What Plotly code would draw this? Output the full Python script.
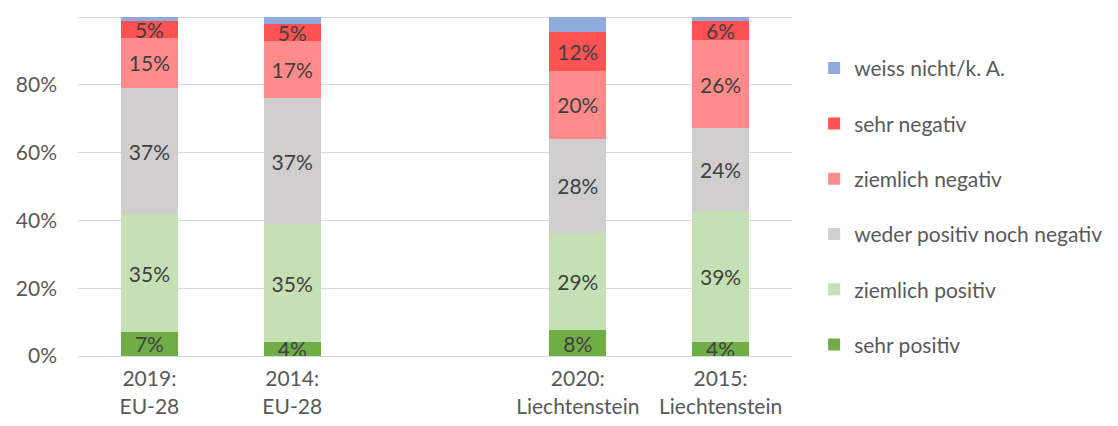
import plotly.graph_objects as go

categories = ["2019:<br>EU-28", "2014:<br>EU-28", " ", "2020:<br>Liechtenstein", "2015:<br>Liechtenstein"]
series_names = ["sehr positiv", "ziemlich positiv", "weder positiv noch negativ",
                "ziemlich negativ", "sehr negativ", "weiss nicht/k. A."]
sehr_positiv = [7.1, 4.2, None, 7.6, 4.2]
ziemlich_positiv = [34.7, 34.6, None, 28.8, 38.6]
weder = [37.2, 37.3, None, 27.6, 24.4]
ziemlich_negativ = [14.9, 16.9, None, 20.2, 25.9]
sehr_negativ = [4.9, 4.9, None, 11.5, 5.8]
weiss_nicht = [1.2, 2.1, None, 4.3, 1.1]
y_tickvals = [0, 20, 40, 60, 80, 100]
y_ticktext = ["0%", "20%", "40%", "60%", "80%", ""]

series_values = [sehr_positiv, ziemlich_positiv, weder, ziemlich_negativ, sehr_negativ, weiss_nicht]
colors = ["#70AD47", "#C5E0B4", "#D0CECE", "#FF8B8B", "#FF5353", "#8FAADC"]
show_labels = [True, True, True, True, True, False]
legend_ranks = [6, 5, 4, 3, 2, 1]

font_family = "Lato, 'Open Sans', sans-serif"

fig = go.Figure()
for name, vals, col, lab, rank in zip(series_names, series_values, colors, show_labels, legend_ranks):
    fig.add_trace(go.Bar(
        x=categories, y=vals, name=name, marker=dict(color=col, line=dict(width=0)),
        texttemplate="%{y:.0f}%" if lab else None,
        textposition="inside" if lab else "none",
        insidetextanchor="middle",
        constraintext="none", textangle=0,
        textfont=dict(size=21, color="#404040", family=font_family),
        legendgroup=name, legendrank=rank, hoverinfo="skip",
    ))

fig.update_layout(
    barmode="stack", bargap=0.6,
    width=1110, height=418,
    margin=dict(l=63, r=326, t=8, b=69),
    plot_bgcolor="white", paper_bgcolor="white",
    font=dict(family=font_family, color="#595959", size=21),
    legend=dict(traceorder="grouped", x=1.031, xanchor="left", y=0.906, yanchor="top",
                font=dict(size=21, color="#595959"), tracegroupgap=25,
                itemwidth=30),
    showlegend=True,
)
fig.update_yaxes(range=[0, 100.3], tickvals=y_tickvals, ticktext=y_ticktext,
                 showgrid=True, gridcolor="#D9D9D9", gridwidth=1,
                 zeroline=False, showline=False, ticklabelstandoff=20,
                 tickfont=dict(size=21, color="#595959"))
fig.update_xaxes(showline=True, linecolor="#D9D9D9", linewidth=1,
                 tickfont=dict(size=21, color="#595959"), ticks="",
                 ticklabelstandoff=4)

fig.write_html("out.html")
